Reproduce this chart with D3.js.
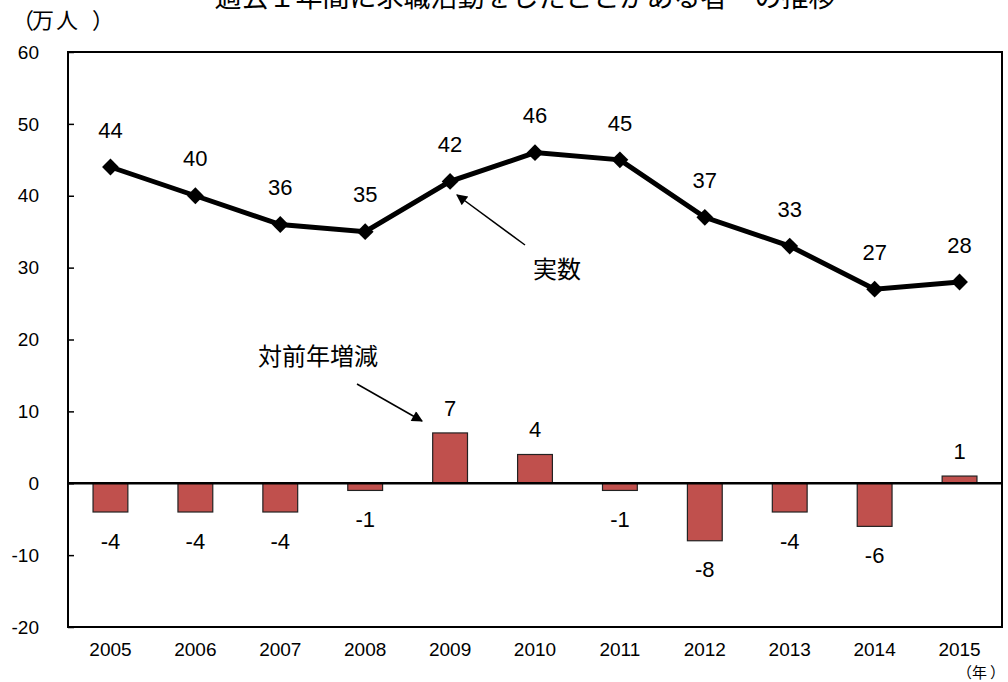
<!DOCTYPE html>
<html>
<head>
<meta charset="utf-8">
<script src="https://cdn.jsdelivr.net/npm/d3@7"></script>
<style>
  body { margin: 0; background: #fff; }
  svg { display: block; font-family: "Liberation Sans", Arial, "Noto Sans CJK JP", sans-serif; }
  .jp { font-family: "Noto Sans CJK JP", "Noto Sans CJK SC", sans-serif; }
</style>
</head>
<body>
<svg id="chart" width="1008" height="682"></svg>
<script>
// 年次
const years = ["2005", "2006", "2007", "2008", "2009", "2010", "2011", "2012", "2013", "2014", "2015"];
// 実数（万人）
const actual = [44, 40, 36, 35, 42, 46, 45, 37, 33, 27, 28];
// 対前年増減（万人）
const change = [-4, -4, -4, -1, 7, 4, -1, -8, -4, -6, 1];
const yTicks = [-20, -10, 0, 10, 20, 30, 40, 50, 60];

const svg = d3.select("#chart");
const margin = { top: 52, right: 6, bottom: 55, left: 68 };
const width = 1008 - margin.left - margin.right;
const height = 682 - margin.top - margin.bottom;

const g = svg.append("g")
  .attr("transform", `translate(${margin.left},${margin.top})`);

const x = d3.scaleBand().domain(years).range([0, width]).padding(0);
const y = d3.scaleLinear().domain([-20, 60]).range([height, 0]);

// タイトル（上端で切れている）
svg.append("text")
  .attr("class", "jp")
  .attr("x", 525)
  .attr("y", 7)
  .attr("text-anchor", "middle")
  .attr("font-size", 27)
  .attr("fill", "#000")
  .text("過去１年間に求職活動をしたことがある者　の推移");

// 単位（括弧の間隔を広げる）
function spacedText(chars, xs, yPos, size) {
  const t = svg.append("text")
    .attr("class", "jp")
    .attr("y", yPos)
    .attr("font-size", size);
  chars.forEach((c, i) => t.append("tspan").attr("x", xs[i]).text(c));
}
spacedText(["（", "万", "人", "）"], [12, 32, 56, 92], 28, 22);
spacedText(["（", "年", "）"], [957, 972, 990], 677.5, 15);

// y軸（目盛りは内向き）
const yAxis = g.append("g")
  .call(d3.axisRight(y).tickValues(yTicks).tickSize(6).tickFormat(""));
yAxis.select(".domain").remove();
yAxis.selectAll("line").attr("stroke", "#000").attr("stroke-width", 1.5);

g.selectAll(".ylab")
  .data(yTicks)
  .enter()
  .append("text")
  .attr("class", "ylab")
  .attr("x", -29)
  .attr("y", d => y(d))
  .attr("dy", "0.35em")
  .attr("text-anchor", "end")
  .attr("font-size", 19)
  .text(d => d);

// x軸ラベル
g.selectAll(".xlab")
  .data(years)
  .enter()
  .append("text")
  .attr("class", "xlab")
  .attr("x", d => x(d) + x.bandwidth() / 2)
  .attr("y", height + 22)
  .attr("dy", "0.35em")
  .attr("text-anchor", "middle")
  .attr("font-size", 19)
  .text(d => d);

// 棒（対前年増減）
const barW = x.bandwidth() * 0.41;
g.selectAll(".bar")
  .data(change)
  .enter()
  .append("rect")
  .attr("class", "bar")
  .attr("x", (d, i) => x(years[i]) + (x.bandwidth() - barW) / 2)
  .attr("y", d => y(Math.max(0, d)))
  .attr("width", barW)
  .attr("height", d => Math.abs(y(d) - y(0)))
  .attr("fill", "#C0504D")
  .attr("stroke", "#222")
  .attr("stroke-width", 1.2);

g.selectAll(".barlab")
  .data(change)
  .enter()
  .append("text")
  .attr("class", "barlab")
  .attr("x", (d, i) => x(years[i]) + x.bandwidth() / 2)
  .attr("y", d => d >= 0 ? y(d) - 25 : y(d) + 29)
  .attr("dy", "0.35em")
  .attr("text-anchor", "middle")
  .attr("font-size", 22)
  .text(d => d);

// 枠
g.append("rect")
  .attr("width", width)
  .attr("height", height)
  .attr("fill", "none")
  .attr("stroke", "#000")
  .attr("stroke-width", 2);

// ゼロ線
g.append("line")
  .attr("x1", 0).attr("x2", width)
  .attr("y1", y(0)).attr("y2", y(0))
  .attr("stroke", "#000")
  .attr("stroke-width", 2.5);

// 折れ線（実数）
const line = d3.line()
  .x((d, i) => x(years[i]) + x.bandwidth() / 2)
  .y(d => y(d));

g.append("path")
  .datum(actual)
  .attr("d", line)
  .attr("fill", "none")
  .attr("stroke", "#000")
  .attr("stroke-width", 5);

g.selectAll(".pt")
  .data(actual)
  .enter()
  .append("path")
  .attr("class", "pt")
  .attr("d", d3.symbol().type(d3.symbolDiamond2).size(180))
  .attr("transform", (d, i) => `translate(${x(years[i]) + x.bandwidth() / 2},${y(d)})`)
  .attr("fill", "#000");

g.selectAll(".ptlab")
  .data(actual)
  .enter()
  .append("text")
  .attr("class", "ptlab")
  .attr("x", (d, i) => x(years[i]) + x.bandwidth() / 2)
  .attr("y", d => y(d) - 37)
  .attr("dy", "0.35em")
  .attr("text-anchor", "middle")
  .attr("font-size", 22)
  .text(d => d);

// 注記と矢印
const defs = svg.append("defs");
defs.append("marker")
  .attr("id", "arrow")
  .attr("viewBox", "0 0 10 10")
  .attr("refX", 9)
  .attr("refY", 5)
  .attr("markerWidth", 13)
  .attr("markerHeight", 11)
  .attr("markerUnits", "userSpaceOnUse")
  .attr("orient", "auto")
  .append("path")
  .attr("d", "M0,0 L10,5 L0,10 z")
  .attr("fill", "#000");

function note(label, lx, ly, x1, y1, x2, y2) {
  svg.append("text")
    .attr("class", "jp")
    .attr("x", lx)
    .attr("y", ly)
    .attr("dy", "0.35em")
    .attr("text-anchor", "middle")
    .attr("font-size", 24)
    .text(label);
  svg.append("line")
    .attr("x1", x1).attr("y1", y1)
    .attr("x2", x2).attr("y2", y2)
    .attr("stroke", "#000")
    .attr("stroke-width", 1.5)
    .attr("marker-end", "url(#arrow)");
}

note("実数", 557, 270, 525, 245, 457, 195);
note("対前年増減", 318, 357, 357, 384, 422, 421);
</script>
</body>
</html>
